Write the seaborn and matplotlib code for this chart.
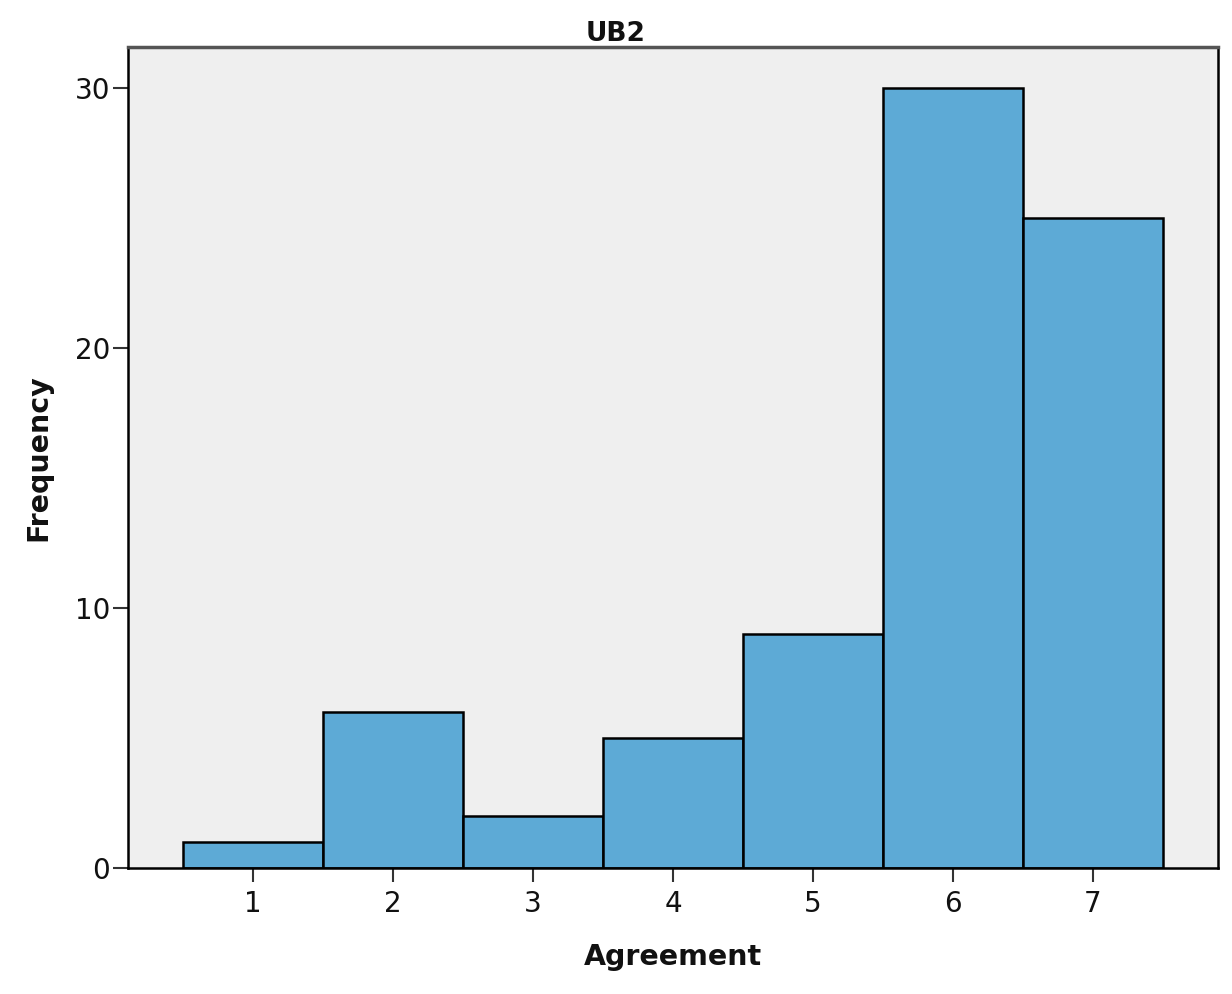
import matplotlib
matplotlib.use("Agg")
import matplotlib.pyplot as plt
import seaborn as sns
import pandas as pd

categories = [1, 2, 3, 4, 5, 6, 7]
counts = [1, 6, 2, 5, 9, 30, 25]
y_ticks = [0, 10, 20, 30]

sns.set_style("white")
plt.rcParams['font.family'] = ['DejaVu Sans']

df = pd.DataFrame({"Agreement": categories, "Frequency": counts})

fig = plt.figure(figsize=(12.32, 9.94), dpi=100)
ax = fig.add_axes([0.1039, 0.1268, 0.8847, 0.8259])
ax.set_facecolor("#EFEFEF")

sns.histplot(data=df, x="Agreement", weights="Frequency", discrete=True,
             color="#5DAAD6", alpha=1.0, edgecolor="black", linewidth=1.8, ax=ax)

ax.set_xlim(0.107, 7.893)
ax.set_ylim(0, 31.58)
ax.set_xticks(categories)
ax.set_yticks(y_ticks)
ax.tick_params(axis="x", direction="out", length=10, width=1.5, color="#333333",
               labelsize=20, pad=6, bottom=True, labelcolor="#111111")
ax.tick_params(axis="y", direction="out", length=11, width=1.5, color="#333333",
               labelsize=20, pad=2, left=True, labelcolor="#111111")

for side in ["left", "right", "bottom"]:
    ax.spines[side].set_color("black")
    ax.spines[side].set_linewidth(1.8)
    ax.spines[side].set_visible(True)
ax.spines["top"].set_color("#555555")
ax.spines["top"].set_linewidth(2.5)
ax.spines["top"].set_visible(True)

ax.set_title("UB2", fontsize=19, fontweight="bold", x=0.4477, pad=4, color="#111111")
ax.set_xlabel("Agreement", fontsize=20.5, fontweight="bold", color="#111111")
ax.set_ylabel("Frequency", fontsize=20.5, fontweight="bold", color="#111111")
ax.xaxis.set_label_coords(0.5, (868 - 957) / 821)
ax.xaxis.label.set_verticalalignment("center")
ax.yaxis.set_label_coords((38 - 128) / 1090, 0.5)
ax.yaxis.label.set_verticalalignment("center")

fig.savefig("out.png", dpi=100)
